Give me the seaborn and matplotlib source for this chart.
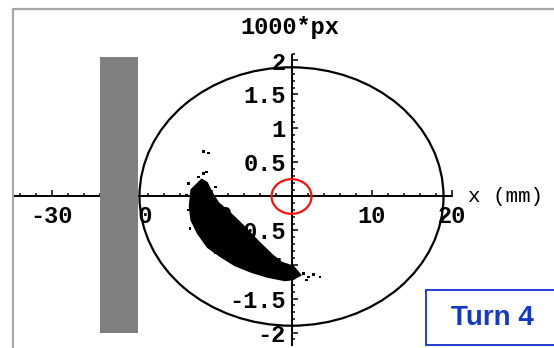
import matplotlib
matplotlib.use("Agg")
import matplotlib.pyplot as plt
import seaborn as sns
import pandas as pd
from matplotlib.patches import Ellipse, Rectangle
from matplotlib.lines import Line2D
from matplotlib.ticker import FixedLocator

# ---------------- data ----------------
# outline of the dense particle cloud (x in mm, y in 1000*px)
blob_x = [-11.22, -12.48, -12.69, -12.48, -11.69, -10.44, -8.73, -7.06, -4.98, -2.94,
          -0.81, 0.19, 1.06, 0.19, -1.23, -2.48, -4.19, -5.81, -7.48, -9.19, -9.98, -10.6]
blob_y = [0.243, 0.096, -0.15, -0.346, -0.537, -0.743, -0.885, -1.007, -1.106, -1.179,
          -1.228, -1.213, -1.154, -1.032, -0.978, -0.860, -0.665, -0.463, -0.272, -0.096, 0.051, 0.199]
# isolated particles around the cloud
stray_x = [-11.0, -10.4, -10.6, -11.0, -11.65, -12.9, -13.1, -12.9, -12.7, -10.4, -9.56,
           -9.5, 1.48, 2.1, 2.73, 3.56, 1.9]
stray_y = [0.66, 0.64, 0.36, 0.34, 0.29, 0.19, 0.02, -0.2, -0.47, -0.61, -0.83,
           0.14, -1.13, -1.18, -1.15, -1.18, -1.23]

x_major = [-30, -20, -10, 10, 20]
x_major_labels = ["-30", "-20", "-10", "10", "20"]
x_minor = [-34, -32, -28, -26, -24, -22, -18, -16, -14, -12, -8, -6, -4, -2,
           2, 4, 6, 8, 12, 14, 16, 18]
y_major = [-2, -1.5, -1, -0.5, 0.5, 1, 1.5, 2]
y_major_labels = ["-2", "-1.5", "-1", "-0.5", "0.5", "1", "1.5", "2"]
y_minor = [round(-2.1 + 0.1 * i, 1) for i in range(43)]

aperture_half_x, aperture_half_y = 19.0, 1.9      # beam pipe ellipse
ref_circle_w, ref_circle_h = 5.0, 0.51            # red reference circle
septum_x0, septum_x1 = -24.0, -19.2               # grey septum block
septum_y0, septum_y1 = -2.0, 2.05

y_axis_label = "1000*px"
x_axis_label = "x (mm)"
box_label = "Turn 4"

# ---------------- figure ----------------
sns.set_style("white")
plt.rcParams["font.family"] = ["Liberation Mono", "DejaVu Sans Mono"]

W, H = 554, 348
fig = plt.figure(figsize=(W / 100, H / 100), dpi=100)
ax = fig.add_axes([0, 0, 1, 1])
x0px, y0px, sx, sy = 291.5, 196.5, 8.0, 68.0
ax.set_xlim(-x0px / sx, (W - x0px) / sx)
ax.set_ylim((y0px - H) / sy, y0px / sy)
ax.patch.set_alpha(0)

for s in ["top", "right"]:
    ax.spines[s].set_visible(False)
ax.spines["left"].set_position(("data", 0))
ax.spines["bottom"].set_position(("data", 0))
ax.spines["bottom"].set_bounds(-34.8, 20.1)
ax.spines["left"].set_bounds(-2.18, 2.08)
for s in ["left", "bottom"]:
    ax.spines[s].set_color("black")
    ax.spines[s].set_linewidth(1.4)
    ax.spines[s].set_zorder(2.5)

ax.xaxis.set_major_locator(FixedLocator(x_major))
ax.xaxis.set_minor_locator(FixedLocator(x_minor))
ax.set_xticklabels(x_major_labels)
ax.yaxis.set_major_locator(FixedLocator(y_major))
ax.yaxis.set_minor_locator(FixedLocator(y_minor))
ax.set_yticklabels(y_major_labels)
ax.tick_params(axis="both", which="both", direction="in", color="black", width=1.1,
               bottom=True, left=True, top=False, right=False)
ax.tick_params(axis="both", which="major", length=4, labelsize=17, labelcolor="black")
ax.tick_params(axis="both", which="minor", length=2.5)
ax.tick_params(axis="x", which="major", pad=6)
ax.tick_params(axis="y", which="major", pad=4)
for lab in ax.get_xticklabels() + ax.get_yticklabels():
    lab.set_fontweight("bold")

# septum block (drawn above the axis line and labels)
ax.add_patch(Rectangle((septum_x0, septum_y0), septum_x1 - septum_x0, septum_y1 - septum_y0,
                       facecolor="#808080", edgecolor="none", zorder=3))

# aperture ellipse
ax.add_patch(Ellipse((0, 0), 2 * aperture_half_x, 2 * aperture_half_y, fill=False,
                     edgecolor="black", linewidth=1.6, zorder=3.5))

# particle cloud
ax.fill(blob_x, blob_y, color="black", linewidth=1.8, edgecolor="black", zorder=4)
sns.scatterplot(data=pd.DataFrame({"x": stray_x, "y": stray_y}), x="x", y="y", ax=ax,
                color="black", s=3, marker="s", edgecolor="none", zorder=4, legend=False)
ax.set_xlabel("")
ax.set_ylabel("")

# red reference circle
ax.add_patch(Ellipse((0, 0), ref_circle_w, ref_circle_h, fill=False,
                     edgecolor="#ff1010", linewidth=1.6, zorder=5))

# axis titles
ax.text(-0.2, 2.49, y_axis_label, ha="center", va="center", fontsize=17,
        fontweight="bold", color="black")
ax.text(22.0, 0.0, x_axis_label, ha="left", va="center", fontsize=15, color="black")

# frame (left and top border of the picture)
fig.add_artist(Line2D([13 / W, 13 / W], [0, 1 - 9 / H], transform=fig.transFigure,
                      color="#a8a8a8", linewidth=1.6))
fig.add_artist(Line2D([13 / W, 1], [1 - 9 / H, 1 - 9 / H], transform=fig.transFigure,
                      color="#a8a8a8", linewidth=1.6))

# "Turn 4" box
bx0, by0, bx1, by1 = 426, 290, 556, 345
fig.add_artist(Rectangle((bx0 / W, 1 - by1 / H), (bx1 - bx0) / W, (by1 - by0) / H,
                         transform=fig.transFigure, fill=True, facecolor="white",
                         edgecolor="#1f3fd0", linewidth=1.4))
fig.text(492 / W, 1 - 318 / H, box_label, ha="center", va="center", fontsize=20,
         fontweight="bold", color="#1438c8", family=["Liberation Sans", "DejaVu Sans"])

fig.savefig("out.png", dpi=100)
